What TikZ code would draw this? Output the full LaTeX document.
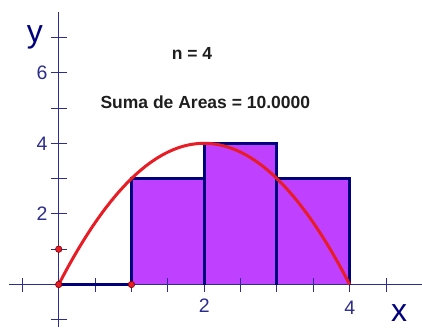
\documentclass[tikz,border=0pt]{standalone}
\usepackage{fontspec}
\setmainfont{Liberation Sans}
\definecolor{ejes}{RGB}{45,45,140}
\definecolor{contorno}{RGB}{0,0,125}
\definecolor{morado}{RGB}{192,64,255}
\definecolor{rojo}{RGB}{232,28,36}
\definecolor{texto}{RGB}{30,30,30}
\tikzset{
  eje/.style={ejes, line width=1.1pt},
  marca/.style={ejes, line width=1pt},
  rectangulo/.style={contorno, line width=3pt, line join=miter},
  curva/.style={rojo, line width=3pt},
  punto/.style={circle, fill=rojo, draw=red!50!black, line width=0.6pt, minimum size=6.5pt, inner sep=0pt},
  numero/.style={text=ejes, font=\fontsize{19.5}{22}\selectfont, inner sep=0pt},
  letra/.style={text=contorno, font=\fontsize{32}{34}\selectfont, inner sep=0pt},
  rotulo/.style={text=texto, font=\fontsize{17.5}{20}\selectfont\bfseries, inner sep=0pt}
}
\begin{document}
\begin{tikzpicture}[x=72.75pt,y=35.3pt]
  \useasboundingbox (-0.807,-1.204) rectangle (4.994,8.06);
  % rectangulos
  \fill[morado] (1,0) rectangle (2,3);
  \fill[morado] (2,0) rectangle (3,4);
  \fill[morado] (3,0) rectangle (4,3);
  % ejes
  \draw[eje] (-0.683,0) -- (4.994,0);
  \draw[eje] (0,-1.204) -- (0,7.72);
  \foreach \x in {-0.5,0.5,1,...,4.5}
    \draw[marca] (\x,0) ++(0,-7pt) -- ++(0,14pt);
  \foreach \y in {-1,1,2,...,7}
    \draw[marca] (0,\y) ++(-8pt,0) -- ++(16pt,0);
  \draw[rectangulo] (0,0) -- (1,0) -- (1,3) -- (2,3) -- (2,4) -- (3,4) -- (3,3) -- (4,3) -- (4,0);
  \draw[rectangulo] (2,0) -- (2,3);
  \draw[rectangulo] (3,0) -- (3,3);
  \draw[curva] plot[domain=0:4, samples=80] (\x,{4*\x-\x*\x});
  \node[punto] (p1) at (0,1) {};
  \node[punto] (p0) at (0,0) {};
  \node[punto] (q1) at (1,0) {};
  % etiquetas
  \node[numero, anchor=east] (e2) at ([xshift=-11pt]0,2) {2};
  \node[numero, anchor=east] (e4) at ([xshift=-11pt]0,4) {4};
  \node[numero, anchor=east] (e6) at ([xshift=-11pt]0,6) {6};
  \node[numero, anchor=north] (f2) at ([yshift=-14pt]2,0) {2};
  \node[numero, anchor=north] (f4) at ([yshift=-16pt]4,0) {4};
  \node[letra] (ey) at (-0.326,7.0) {y};
  \node[letra] (ex) at (4.678,-0.80) {x};
  \node[rotulo] (n) at (1.832,6.558) {n = 4};
  \node[rotulo] (suma) at (2.016,5.17) {Suma de Areas = 10.0000};
\end{tikzpicture}
\end{document}
